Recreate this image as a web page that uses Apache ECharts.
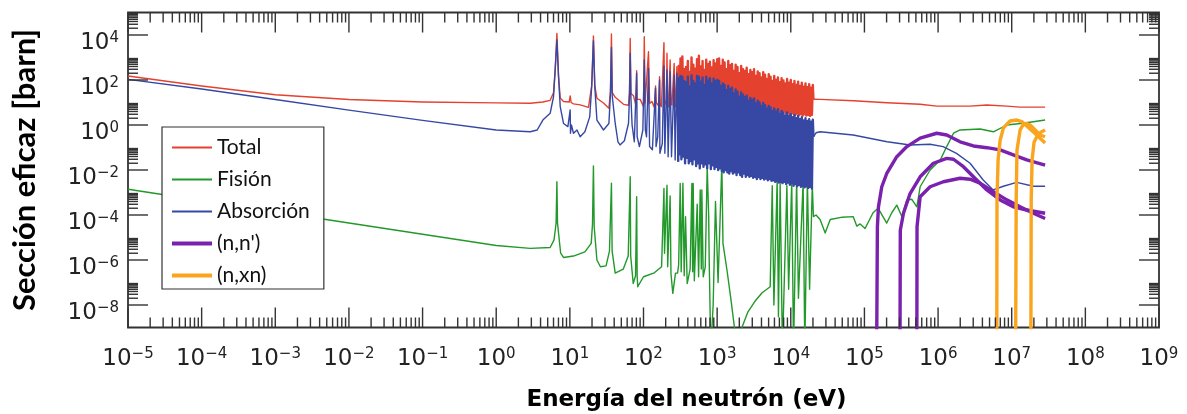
<!DOCTYPE html>
<html><head><meta charset="utf-8">
<script src="https://cdn.jsdelivr.net/npm/echarts@6/dist/echarts.min.js"></script>
<style>html,body{margin:0;padding:0;background:#fff}#c{width:1187px;height:414px}</style>
</head><body><div id="c"></div>
<script>
// ---- tick labels (exponents of 10) ----
const xTickExp = [-5,-4,-3,-2,-1,0,1,2,3,4,5,6,7,8,9];
const yTickExp = [-8,-6,-4,-2,0,2,4];
const minorMult = [2,3,4,5,6,7,8,9];

// ---- Total (eV, barn) below the dense resonance region ----
const totalLow = [[1e-5,150],[1e-4,54],[1e-3,22],[1e-2,13.5],[0.1,10.6],[1,9.6],[2.9,9.2],[4.3,10.5],[5.4,12.5],[6.0,27],[6.32,290],[6.67,11800],[7.02,150],[7.4,16],[8.2,11],[9.8,10.5],[10.1,19.5],[10.4,10],[11.2,8.7],[13.8,7.8],[17.9,6.1],[19.8,56],[20.9,9100],[21.8,56],[23.3,15.5],[28.6,9.5],[33.9,5.5],[35.6,32],[36.7,11000],[37.6,28],[41.3,17],[53.6,8.3],[62.6,7.5],[64.5,30],[66,7000],[67.5,25],[73.2,20],[79.5,6.5],[80.7,260],[82,14],[90.1,13.8],[100,6.5],[102.5,8300],[105,9.5],[111,9.5],[116.9,1800],[121,9],[130,11],[140,6.2],[145.7,54],[149,10],[160,7],[165.3,140],[168,8],[175,6.5],[189.6,4600],[193,13],[204,8],[208.5,1550],[212,9],[218,6.5],[230,780],[236,10],[243,7.7],[261,550],[267,9],[272,6.5],[284,390],[292,7.7]];
// ---- Absorción below the dense region ----
const absLow = [[1e-5,107],[1e-4,40],[1e-3,13.5],[1e-2,4.6],[0.1,1.6],[1,0.6],[2.9,0.5],[3.6,0.6],[4.3,1.66],[5.4,3.3],[6.0,18],[6.32,275],[6.67,6000],[7.02,140],[7.4,6.5],[8.2,1.17],[9.4,0.85],[10.0,0.85],[10.1,4.7],[10.2,0.43],[10.5,1.0],[11.2,0.43],[12.5,0.6],[13.8,0.3],[16,0.5],[18.6,2.3],[19.8,50],[20.9,5600],[21.8,50],[23.3,1.66],[28.6,0.6],[33.9,1.17],[35.6,26],[36.7,2800],[37.6,20],[41.3,1.17],[45,0.18],[48,0.13],[55,0.2],[62.6,1.2],[64.5,20],[66,1550],[67.5,16],[70,1],[75,0.18],[80.7,200],[82,0.3],[88,0.11],[98,0.6],[102.5,780],[106,0.6],[110,0.3],[116.9,330],[121,0.11],[132,0.08],[145.7,43],[148,0.11],[156,0.3],[165.3,100],[167,0.055],[180,0.15],[189.6,420],[195,0.055],[208.5,275],[216,0.039],[230,235],[240,0.039],[261,165],[269,0.028],[284,200],[296,0.023]];

// ---- dense resonance region (shared energies) ----
const denseE = [300,309,318,327,337,347,357,367,378,389,
400,412,424,436,449,462,475,489,503,518,
533,549,565,581,598,616,634,652,671,691,
711,732,753,775,797,821,845,869,895,921,
948,975,1004,1033,1063,1094,1126,1159,1193,1228,
1263,1300,1338,1377,1417,1459,1501,1545,1590,1636,
1684,1733,1784,1836,1889,1944,2001,2059,2119,2181,
2245,2310,2378,2447,2518,2592,2667,2745,2825,2907,
2992,3079,3169,3261,3356,3454,3555,3658,3765,3875,
3988,4104,4223,4346,4473,4603,4738,4876,5018,5164,
5314,5469,5628,5792,5961,6135,6313,6497,6687,6881,
7082,7288,7501,7719,7944,8175,8413,8659,8911,9171,
9438,9713,9996,10287,10587,10895,11213,11540,11876,12222,
12578,12945,13322,13710,14110,14521,14944,15380,15828,16289,
16764,17252,17755,18273,18805,19353,19917,20300];
const denseTotal = [420,6,900,5,1100,7,300,5,380,6,
700,4.5,230,6,1000,5,480,7,320,5,
850,6,1200,5,400,6.5,700,5,280,6,
800,5,500,7,650,5,360,6,750,5,
550,6,850,5,900,6,420,5,800,4.5,
600,6,300,5,700,5,450,6,520,4.5,
250,5.5,480,4.5,380,6,200,5,420,4.5,
300,5,250,4,350,5,180,4.5,280,5,
220,4,300,5,150,4,240,4.5,200,4,
130,5,220,4,170,4.5,110,4,180,3.5,
140,4,90,3.5,150,4,100,3,130,4,
80,3.5,120,3,95,4,70,3,110,3.5,
75,3,100,3.5,65,3,90,2.8,60,3.2,
85,2.8,55,3,75,2.6,50,3,70,2.6,
48,2.8,65,2.5,45,2.8,60,14];
const denseAbs = [120,0.05,150,0.03,140,0.04,90,0.02,80,0.035,
140,0.02,50,0.025,160,0.018,90,0.03,70,0.015,
150,0.02,140,0.012,85,0.02,130,0.014,60,0.018,
140,0.012,95,0.02,120,0.011,70,0.016,115,0.011,
90,0.014,100,0.01,90,0.012,55,0.009,70,0.008,
60,0.01,35,0.008,55,0.007,40,0.009,45,0.007,
25,0.008,38,0.006,30,0.008,18,0.006,28,0.005,
22,0.007,17,0.005,20,0.006,12,0.005,16,0.0055,
13,0.0045,15,0.005,9,0.004,12,0.0048,10,0.004,
7,0.0045,9.5,0.0038,7.5,0.0042,5.5,0.0035,7,0.004,
6,0.0033,4.2,0.0035,5.5,0.003,4,0.0032,5,0.0028,
3.2,0.003,4.2,0.0026,3.5,0.003,2.6,0.0024,3.6,0.0028,
2.5,0.0022,3.0,0.0026,2.2,0.002,2.8,0.0024,2.0,0.0019,
2.5,0.0022,1.8,0.0018,2.2,0.002,1.6,0.0017,2.0,0.0019,
1.5,0.0016,1.8,0.0018,1.4,0.0015,1.7,0.3];

// ---- above 20 keV ----
const totalHigh = [[25000,13.8],[71300,12],[2.03e5,9.8],[5.7e5,8.3],[9.6e5,6.9],[1.62e6,6.9],[2.72e6,6.9],[4.6e6,7.8],[8.57e6,6.9],[1.3e7,6.2],[2.84e7,6.2]];
const absHigh = [[22000,0.45],[25000,0.5],[70300,0.36],[2.03e5,0.18],[4.17e5,0.13],[7.8e5,0.14],[1.17e6,0.11],[1.78e6,0.055],[2.72e6,0.02],[4.1e6,0.0036],[5.6e6,0.0013],[7.7e6,0.0019],[1.17e7,0.0028],[1.97e7,0.0019],[2.84e7,0.0019]];

// ---- Fisión ----
const fission = [[1e-5,1.4e-3],[1e-4,4.4e-4],[1e-3,1.4e-4],[1e-2,4.4e-5],[0.1,1.4e-5],[1,4.4e-6],[2.9,3.3e-6],[5.4,3.6e-6],[6.1,7.8e-6],[6.5,4.3e-5],[6.67,3e-3],[6.8,4.3e-5],[7.5,2e-6],[8.2,1.3e-6],[11.2,1.5e-6],[16,2.3e-6],[19.5,5.5e-6],[20.3,4e-5],[20.9,1.5e-2],[21.4,3e-5],[23.3,1e-6],[26,5e-7],[31,5.5e-7],[34.5,2.5e-6],[36.7,2.6e-3],[37.5,2.5e-6],[41.3,2.6e-7],[53,3.9e-7],[62,1.5e-6],[66,5e-3],[67,1.5e-6],[72.5,9e-8],[78,2e-7],[80.7,6.5e-4],[82,2e-7],[83.5,6.5e-8],[100,1.8e-7],[140,2.7e-7],[176,5e-7],[189.6,1.5e-3],[193,2e-6],[208.5,2.1e-3],[213,5e-7],[230,7e-4],[236,2.5e-7],[250,3.3e-8],[272,2.6e-7],
[290,2.6e-7],[300,6e-7],[315,2.5e-3],[325,3e-7],[343,2.6e-3],[357,2e-7],[372,8.5e-5],[392,9e-8],[405,1.5e-7],[430,4e-7],[454,2.5e-3],[465,3e-7],[473,2.5e-3],[490,1.2e-7],[536,3e-4],[560,1.8e-7],[589,1.3e-3],[610,4e-7],[620,1.3e-3],[647,1.8e-7],[690,5e-7],[733,1.4e-2],[768,8.5e-5],[780,1e-6],[820,1e-10],[883,1e-8],[950,4e-4],[1030,1e-7],[1158,2e-2],[1200,5.5e-6],[1370,3e-7],[1550,1.5e-8],[1750,6e-10],[1950,5e-11],[2170,1e-9],[2620,5e-9],[3280,1.5e-8],[4080,3.5e-8],[5250,6.5e-8],[5600,2e-3],[5900,1e-8],[6530,3.6e-3],[6800,3e-9],[7170,2.5e-3],[7700,1e-10],[8850,2e-3],[9350,5e-8],[10300,3e-3],[10900,1e-10],[12000,3.5e-3],[12700,2e-8],[14700,3e-3],[15500,1e-10],[16800,3.5e-3],[18000,5e-8],[19600,2e-3],[20300,8.5e-5],
[22000,1e-4],[25000,6.3e-5],[29300,1.6e-5],[34300,6.3e-5],[50000,8e-5],[70300,8.5e-5],[78900,3.2e-5],[87500,4e-5],[1.02e5,2.5e-5],[1.31e5,1.26e-4],[1.53e5,2e-4],[2.01e5,4.4e-5],[2.35e5,1.26e-4],[2.75e5,2.75e-4],[3.22e5,8.5e-5],[3.76e5,4.7e-4],[4.4e5,5e-4],[5.15e5,2.3e-4],[5.71e5,1.8e-3],[7.8e5,1e-2],[1.07e6,2.75e-2],[1.31e6,0.11],[1.62e6,0.43],[1.99e6,0.6],[2.72e6,0.63],[3.72e6,0.66],[5.64e6,0.5],[8.57e6,1.0],[1.3e7,1.17],[1.97e7,1.4],[2.84e7,1.66]];

// ---- (n,n') three curves ----
const inelA = [[1.466e5,1e-10],[1.5e5,3e-5],[1.55e5,2.3e-4],[1.72e5,1.8e-3],[2.01e5,7e-3],[2.75e5,3.9e-2],[3.77e5,0.11],[5.71e5,0.26],[9.6e5,0.43],[1.31e6,0.36],[1.99e6,0.18],[3.02e6,0.117],[4.59e6,0.098],[6.96e6,0.078],[1.05e7,0.047],[1.6e7,0.028],[2.84e7,0.0166]];
const inelB = [[3.04e5,1e-10],[3.07e5,2.1e-5],[3.39e5,1.2e-4],[4.17e5,9e-4],[5.71e5,5e-3],[8.65e5,0.02],[1.31e6,0.033],[1.62e6,0.03],[2.21e6,0.014],[3.02e6,5e-3],[4.59e6,1.3e-3],[6.96e6,4.7e-4],[1.05e7,2.3e-4],[1.6e7,1.66e-4],[2.84e7,1.2e-4]];
const inelC = [[5.15e5,1e-10],[5.18e5,3e-5],[5.71e5,6.5e-4],[7.8e5,1.8e-3],[1.18e6,3e-3],[1.99e6,4.3e-3],[2.72e6,3.9e-3],[3.72e6,2.6e-3],[5.64e6,1.1e-3],[8.57e6,4.7e-4],[1.3e7,2.3e-4],[1.97e7,1.2e-4],[2.84e7,7e-5]];
// ---- (n,xn) three curves ----
const xn1 = [[6.27e6,1e-10],[6.31e6,4.7e-4],[6.53e6,2.75e-2],[6.96e6,0.21],[7.71e6,0.74],[9.5e6,1.5],[1.17e7,1.66],[1.37e7,1.41],[1.6e7,0.91],[1.97e7,0.49],[2.43e7,0.26],[2.84e7,0.16]];
const xn2 = [[1.13e7,1e-10],[1.15e7,4.7e-4],[1.18e7,7.8e-2],[1.3e7,0.6],[1.44e7,1.1],[1.6e7,1.17],[1.78e7,1.0],[2.08e7,0.6],[2.43e7,0.36],[2.84e7,0.3]];
const xn3 = [[1.82e7,1e-10],[1.84e7,4.7e-4],[1.89e7,2.75e-2],[2.01e7,0.17],[2.21e7,0.32],[2.51e7,0.49],[2.84e7,0.6]];

// ---- build ----
const L = a => a.map(p => [Math.log10(p[0]), Math.log10(p[1])]);
const zip = (E, S) => E.map((e, i) => [e, S[i]]);
const lastOf = a => a[a.length - 1];
const totDense = zip(denseE, denseTotal), absDense = zip(denseE, denseAbs);

const C = {tot:'#e4412f', fis:'#22992a', abs:'#3648a4', nn:'#7a22ad', xn:'#fba41e'};
const thin = 'path://M0,0L0.01,0M40,20L40.01,20M0,9L40,9L40,11L0,11Z';
const thick = 'path://M0,0L0.01,0M40,20L40.01,20M0,8L40,8L40,12L0,12Z';

const supFmt = v => '{b|10}{s|' + (v < 0 ? '\u2212' + (-v) : String(v)) + '}';
const rich = {
  b: {fontFamily:'DejaVu Sans', fontSize:23, color:'#222', lineHeight:24, verticalAlign:'bottom'},
  s: {fontFamily:'DejaVu Sans', fontSize:15, color:'#222', lineHeight:15, verticalAlign:'top'}
};

const tickData = [];
xTickExp.forEach(e => tickData.push([e, 0]));
xTickExp.slice(0, -1).forEach(e => minorMult.forEach(m => tickData.push([e + Math.log10(m), 1])));
yTickExp.forEach(e => tickData.push([e, 2]));
yTickExp.forEach(e => minorMult.forEach(m => tickData.push([e + Math.log10(m), 3])));

function renderTick(params, api) {
  const v = api.value(0), k = api.value(1);
  const cs = params.coordSys;
  const st = {stroke:'#333', lineWidth:1.4};
  if (k < 2) {
    const len = k === 0 ? 20 : 10;
    const x = api.coord([v, 0])[0];
    return {type:'group', children:[
      {type:'line', shape:{x1:x, y1:cs.y + cs.height, x2:x, y2:cs.y + cs.height - len}, style:st},
      {type:'line', shape:{x1:x, y1:cs.y, x2:x, y2:cs.y + len}, style:st}]};
  }
  const len = k === 2 ? 20 : 10;
  const y = api.coord([0, v])[1];
  return {type:'group', children:[
    {type:'line', shape:{x1:cs.x, y1:y, x2:cs.x + len, y2:y}, style:st},
    {type:'line', shape:{x1:cs.x + cs.width, y1:y, x2:cs.x + cs.width - len, y2:y}, style:st}]};
}

const line = (name, data, color, w) => ({type:'line', name, data, color, symbol:'none', showSymbol:false,
  lineStyle:{width:w, color, join:'round'}, clip:true, silent:true});

const chart = echarts.init(document.getElementById('c'));
chart.setOption({
  animation:false,
  backgroundColor:'#fff',
  grid:{left:128, right:28, top:12.5, bottom:86.5, show:true, borderColor:'#333', borderWidth:1.8, backgroundColor:'transparent', outerBoundsMode:'none'},
  xAxis:{type:'value', min:-5, max:9, interval:1,
    axisLine:{show:false}, axisTick:{show:false}, splitLine:{show:false},
    axisLabel:{formatter:supFmt, margin:19, rich},
    name:'Energía del neutrón (eV)', nameLocation:'middle', nameGap:61,
    nameTextStyle:{fontFamily:'DejaVu Sans', fontWeight:'bold', fontSize:23, color:'#000', padding:[0,0,0,86]}},
  yAxis:{type:'value', min:-9, max:5, interval:1,
    axisLine:{show:false}, axisTick:{show:false}, splitLine:{show:false},
    axisLabel:{formatter:v => (v % 2 === 0 ? supFmt(v) : ''), margin:9, padding:[16,0,0,0], rich},
    name:'Sección eficaz [barn]', nameLocation:'middle', nameGap:88, nameRotate:90,
    nameTextStyle:{fontFamily:'Lato', fontWeight:'bold', fontSize:31, color:'#000'}},
  legend:{orient:'vertical', left:162, top:127, padding:[10,14,3,10], itemWidth:40, itemHeight:20,
    itemGap:11, itemTextGap:10, backgroundColor:'#fff', borderColor:'#333', borderWidth:1.2,
    selectedMode:false, itemStyle:{borderWidth:0},
    textStyle:{fontFamily:'Lato', fontSize:21, color:'#111', lineHeight:20},
    data:[{name:'Total', icon:thin}, {name:'Fisión', icon:thin}, {name:'Absorción', icon:thin},
          {name:"(n,n')", icon:thick}, {name:'(n,xn)', icon:thick}]},
  series:[
    line('Total', L(totalLow), C.tot, 1.4),
    line('Total', L([lastOf(totalLow)].concat(totDense)), C.tot, 2.4),
    line('Total', L([lastOf(totDense)].concat(totalHigh)), C.tot, 1.4),
    line('Fisión', L(fission), C.fis, 1.4),
    line('Absorción', L(absLow), C.abs, 1.4),
    line('Absorción', L([lastOf(absLow)].concat(absDense)), C.abs, 2.4),
    line('Absorción', L([lastOf(absDense)].concat(absHigh)), C.abs, 1.4),
    line("(n,n')", L(inelA), C.nn, 3.4),
    line("(n,n')", L(inelB), C.nn, 3.4),
    line("(n,n')", L(inelC), C.nn, 3.4),
    line('(n,xn)', L(xn1), C.xn, 3.4),
    line('(n,xn)', L(xn2), C.xn, 3.4),
    line('(n,xn)', L(xn3), C.xn, 3.4),
    {type:'custom', name:'ticks', data:tickData, renderItem:renderTick, silent:true, clip:false, z:5}
  ]
});
</script></body></html>
